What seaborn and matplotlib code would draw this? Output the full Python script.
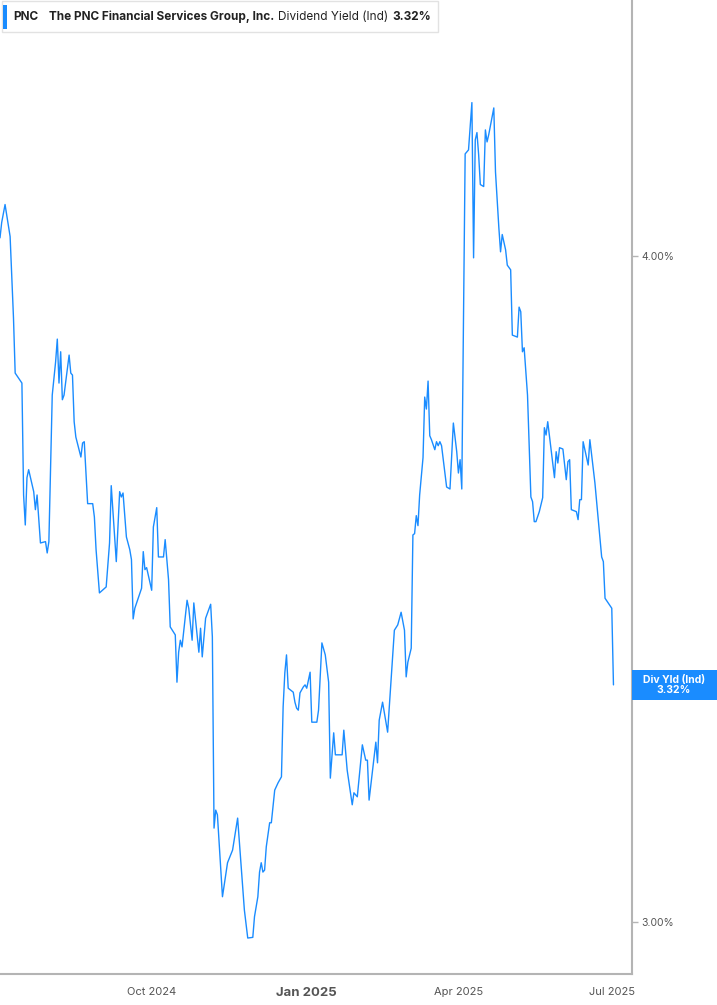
import pandas as pd
import seaborn as sns
import matplotlib.pyplot as plt
import matplotlib.patches as mpatches

########## Data

start_date = pd.Timestamp("2024-07-03")

# calendar days after start_date for each point on the line
day_offsets = [0, 1, 3, 6, 8, 9, 13, 14, 15, 16, 17, 20, 21, 22, 24, 27, 28, 29, 31, 33,
               34, 35, 36, 37, 38, 41, 42, 43, 44, 45, 48, 49, 50, 52, 55, 56, 57, 59, 63, 65,
               66, 69, 71, 72, 73, 75, 77, 78, 79, 80, 84, 85, 86, 87, 90, 91, 93, 94, 97, 98,
               100, 101, 104, 105, 106, 107, 108, 111, 112, 114, 115, 118, 119, 120, 122, 125, 126, 127, 128, 129,
               132, 135, 138, 141, 144, 145, 147, 150, 151, 153, 154, 155, 156, 157, 158, 160, 161, 163, 165, 167,
               168, 169, 170, 171, 174, 175, 176, 177, 178, 180, 181, 182, 184, 185, 188, 189, 191, 193, 195, 196,
               198, 199, 203, 204, 206, 209, 210, 212, 215, 217, 218, 219, 223, 224, 225, 227, 230, 234, 236, 238,
               240, 241, 242, 244, 245, 246, 247, 248, 249, 251, 252, 253, 254, 255, 256, 258, 259, 260, 261, 262,
               264, 265, 267, 269, 271, 272, 273, 274, 276, 277, 278, 280, 281, 282, 283, 284, 285, 287, 288, 289,
               290, 293, 294, 296, 297, 298, 300, 301, 303, 304, 307, 308, 309, 310, 311, 313, 315, 316, 317, 318,
               320, 322, 323, 324, 325, 327, 329, 330, 331, 332, 334, 336, 337, 338, 339, 342, 343, 344, 345, 346,
               349, 350, 353, 357, 358, 359, 363, 364]

# indicated dividend yield, %
div_yield = [4.027, 4.050, 4.077, 4.029, 3.907, 3.824, 3.809, 3.641, 3.596, 3.667, 3.679, 3.646, 3.619, 3.641, 3.569, 3.571, 3.554, 3.571, 3.791, 3.841,
             3.875, 3.809, 3.856, 3.784, 3.791, 3.851, 3.824, 3.821, 3.751, 3.728, 3.698, 3.719, 3.721, 3.628, 3.628, 3.608, 3.559, 3.494, 3.503, 3.569,
             3.655, 3.541, 3.646, 3.638, 3.644, 3.578, 3.559, 3.544, 3.455, 3.471, 3.501, 3.556, 3.529, 3.532, 3.498, 3.593, 3.622, 3.548, 3.548, 3.574,
             3.514, 3.443, 3.431, 3.360, 3.405, 3.423, 3.413, 3.483, 3.471, 3.423, 3.479, 3.405, 3.441, 3.398, 3.456, 3.477, 3.428, 3.141, 3.168, 3.161,
             3.038, 3.089, 3.108, 3.156, 3.053, 3.018, 2.976, 2.977, 3.008, 3.038, 3.075, 3.089, 3.075, 3.078, 3.113, 3.149, 3.149, 3.198, 3.209, 3.218,
             3.323, 3.374, 3.401, 3.351, 3.345, 3.330, 3.321, 3.318, 3.344, 3.353, 3.356, 3.351, 3.375, 3.300, 3.300, 3.318, 3.419, 3.401, 3.360, 3.216,
             3.284, 3.251, 3.251, 3.288, 3.228, 3.176, 3.194, 3.188, 3.266, 3.243, 3.243, 3.183, 3.270, 3.239, 3.303, 3.330, 3.285, 3.438, 3.446, 3.465,
             3.438, 3.368, 3.390, 3.411, 3.581, 3.583, 3.610, 3.595, 3.641, 3.697, 3.788, 3.770, 3.812, 3.730, 3.724, 3.709, 3.721, 3.715, 3.721, 3.715,
             3.674, 3.653, 3.650, 3.749, 3.706, 3.674, 3.694, 3.650, 4.153, 4.156, 4.159, 4.230, 3.997, 4.174, 4.185, 4.152, 4.107, 4.104, 4.189, 4.171,
             4.182, 4.222, 4.126, 4.042, 4.006, 4.032, 4.009, 3.986, 3.979, 3.881, 3.878, 3.923, 3.916, 3.856, 3.862, 3.791, 3.638, 3.631, 3.601, 3.601,
             3.616, 3.637, 3.742, 3.731, 3.751, 3.709, 3.667, 3.706, 3.689, 3.712, 3.710, 3.664, 3.691, 3.694, 3.619, 3.616, 3.604, 3.634, 3.634, 3.721,
             3.686, 3.724, 3.659, 3.548, 3.541, 3.486, 3.471, 3.356]

tick_dates  = ["2024-10-01", "2025-01-01", "2025-04-01", "2025-07-01"]
tick_labels = ["Oct 2024", "Jan 2025", "Apr 2025", "Jul 2025"]
ytick_values = [3.0, 4.0]
ytick_labels = ["3.00%", "4.00%"]

df = pd.DataFrame({"date": start_date + pd.to_timedelta(day_offsets, unit="D"),
                   "yield": div_yield})

########## Plotting

sns.set_style("white")
plt.rcParams["font.family"] = ["Inter", "DejaVu Sans"]

W, H = 717, 1005
fig = plt.figure(figsize=(W / 100, H / 100), dpi=100)
ax = fig.add_axes([0, 31 / H, 632 / W, 1 - 31 / H])

sns.lineplot(data=df, x="date", y="yield", color="#1a8cff", linewidth=1, ax=ax)

ax.set_xlim(start_date, start_date + pd.Timedelta(days=375))
ax.set_ylim(2.922, 4.384)
ax.set_xlabel("")
ax.set_ylabel("")

for side in ["left", "top"]:
    ax.spines[side].set_visible(False)
for side in ["right", "bottom"]:
    ax.spines[side].set_color("#b4b4b4")
    ax.spines[side].set_linewidth(1.5)

ax.yaxis.tick_right()
ax.set_yticks(ytick_values, ytick_labels)
ax.tick_params(axis="y", length=4, width=1, color="#b4b4b4", labelcolor="#555555",
               labelsize=7.5, pad=3)

ax.set_xticks(pd.to_datetime(tick_dates))
ax.set_xticklabels(tick_labels)
ax.tick_params(axis="x", length=4, width=1, color="#b4b4b4", labelcolor="#555555",
               labelsize=8, pad=5)
for lbl in ax.get_xticklabels():
    if lbl.get_text() == "Jan 2025":
        lbl.set_fontweight("bold")
        lbl.set_fontsize(9.5)

# header box
fig.add_artist(mpatches.Rectangle((2 / W, 1 - 32 / H), 436 / W, 31 / H, transform=fig.transFigure,
                                  facecolor="white", edgecolor="#e2e2e2", linewidth=1))
fig.add_artist(mpatches.Rectangle((3 / W, 1 - 29 / H), 4 / W, 24 / H, transform=fig.transFigure,
                                  facecolor="#1a8cff", edgecolor="none"))
hy = 1 - 17 / H
fig.text(13 / W, hy, "PNC", fontsize=8.5, fontweight="bold", color="#222222", va="center")
fig.text(49 / W, hy, "The PNC Financial Services Group, Inc.", fontsize=8.5, fontweight="bold",
         color="#222222", va="center")
fig.text(278 / W, hy, "Dividend Yield (Ind)", fontsize=8.5, color="#222222", va="center")
fig.text(392 / W, hy, "3.32%", fontsize=8.5, fontweight="bold", color="#222222", va="center")

# last value tag
fig.add_artist(mpatches.Rectangle((632 / W, 1 - 700 / H), 85 / W, 30 / H, transform=fig.transFigure,
                                  facecolor="#1a8cff", edgecolor="none"))
fig.text(674 / W, 1 - 685 / H, "Div Yld (Ind)\n3.32%", fontsize=7.5, fontweight="bold",
         color="white", ha="center", va="center", linespacing=1.0)

plt.savefig("out.png", dpi=100)
